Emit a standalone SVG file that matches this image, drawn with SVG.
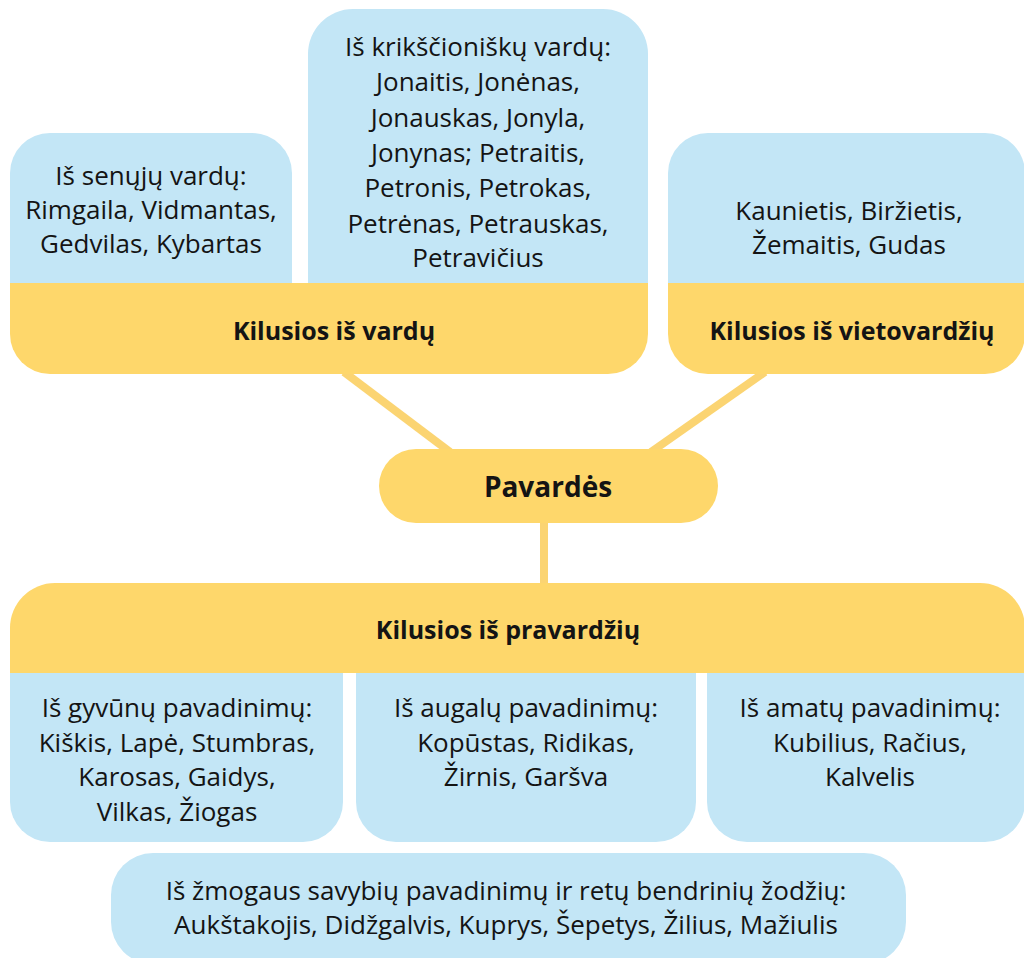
<svg xmlns="http://www.w3.org/2000/svg" width="1024" height="958" viewBox="0 0 1024 958">
<style>
.blue{fill:#C3E6F6}
.yel{fill:#FED76B}
.con{stroke:#FBD472;stroke-width:8;fill:none}
.t{font-family:"Open Sans","Noto Sans","Liberation Sans",sans-serif;font-size:26px;fill:#141414;text-anchor:middle}
.b{font-family:"Open Sans","Noto Sans","Liberation Sans",sans-serif;font-size:25px;font-weight:bold;fill:#141414;text-anchor:middle}
</style>
<rect width="1024" height="958" fill="#fff"/>
<g id="connectors">
<line class="con" x1="344" y1="372" x2="450" y2="452"/>
<line class="con" x1="765" y1="372" x2="651" y2="452"/>
<line class="con" x1="544" y1="520" x2="544" y2="586"/>
</g>
<g id="seni-vardai">
<path class="blue" d="M10,290 V173 A40,40 0 0 1 50,133 H252 A40,40 0 0 1 292,173 V290 Z"/>
<text class="t" x="151" y="185">Iš senųjų vardų:</text>
<text class="t" x="151" y="219">Rimgaila, Vidmantas,</text>
<text class="t" x="151" y="253">Gedvilas, Kybartas</text>
</g>
<g id="krikscioniski-vardai">
<path class="blue" d="M308,290 V54 A45,45 0 0 1 353,9 H603 A45,45 0 0 1 648,54 V290 Z"/>
<text class="t" x="478" y="56">Iš krikščioniškų vardų:</text>
<text class="t" x="478" y="91">Jonaitis, Jonėnas,</text>
<text class="t" x="478" y="126.5">Jonauskas, Jonyla,</text>
<text class="t" x="478" y="162">Jonynas; Petraitis,</text>
<text class="t" x="478" y="197">Petronis, Petrokas,</text>
<text class="t" x="478" y="232.5">Petrėnas, Petrauskas,</text>
<text class="t" x="478" y="267">Petravičius</text>
</g>
<g id="kilusios-is-vardu">
<path class="yel" d="M10,283 H648 V334 A40,40 0 0 1 608,374 H50 A40,40 0 0 1 10,334 Z"/>
<text class="b" x="334" y="340">Kilusios iš vardų</text>
</g>
<g id="vietovardziai">
<path class="blue" d="M668,290 V173 A40,40 0 0 1 708,133 H985 A40,40 0 0 1 1025,173 V290 Z"/>
<text class="t" x="849" y="220">Kaunietis, Biržietis,</text>
<text class="t" x="849" y="254">Žemaitis, Gudas</text>
</g>
<g id="kilusios-is-vietovardziu">
<path class="yel" d="M668,283 H1025 V334 A40,40 0 0 1 985,374 H708 A40,40 0 0 1 668,334 Z"/>
<text class="b" x="852" y="340">Kilusios iš vietovardžių</text>
</g>
<g id="pavardes">
<rect class="yel" x="379" y="449" width="339" height="74" rx="37"/>
<text class="b" x="548" y="497" style="font-size:28px">Pavardės</text>
</g>
<g id="kilusios-is-pravardziu">
<path class="yel" d="M10,673 V628 A45,45 0 0 1 55,583 H980 A45,45 0 0 1 1025,628 V673 Z"/>
<text class="b" x="508" y="639">Kilusios iš pravardžių</text>
</g>
<g id="gyvunu">
<path class="blue" d="M10,673 H343 V802 A40,40 0 0 1 303,842 H50 A40,40 0 0 1 10,802 Z"/>
<text class="t" x="177" y="717">Iš gyvūnų pavadinimų:</text>
<text class="t" x="177" y="752">Kiškis, Lapė, Stumbras,</text>
<text class="t" x="177" y="786">Karosas, Gaidys,</text>
<text class="t" x="177" y="821">Vilkas, Žiogas</text>
</g>
<g id="augalu">
<path class="blue" d="M356,673 H696 V802 A40,40 0 0 1 656,842 H396 A40,40 0 0 1 356,802 Z"/>
<text class="t" x="526" y="717">Iš augalų pavadinimų:</text>
<text class="t" x="526" y="752">Kopūstas, Ridikas,</text>
<text class="t" x="526" y="786">Žirnis, Garšva</text>
</g>
<g id="amatu">
<path class="blue" d="M707,673 H1025 V802 A40,40 0 0 1 985,842 H747 A40,40 0 0 1 707,802 Z"/>
<text class="t" x="870" y="717">Iš amatų pavadinimų:</text>
<text class="t" x="870" y="752">Kubilius, Račius,</text>
<text class="t" x="870" y="786">Kalvelis</text>
</g>
<g id="zmogaus-savybiu">
<rect class="blue" x="111" y="853" width="795" height="111" rx="42"/>
<text class="t" x="506" y="900">Iš žmogaus savybių pavadinimų ir retų bendrinių žodžių:</text>
<text class="t" x="506" y="934">Aukštakojis, Didžgalvis, Kuprys, Šepetys, Žilius, Mažiulis</text>
</g>
</svg>
